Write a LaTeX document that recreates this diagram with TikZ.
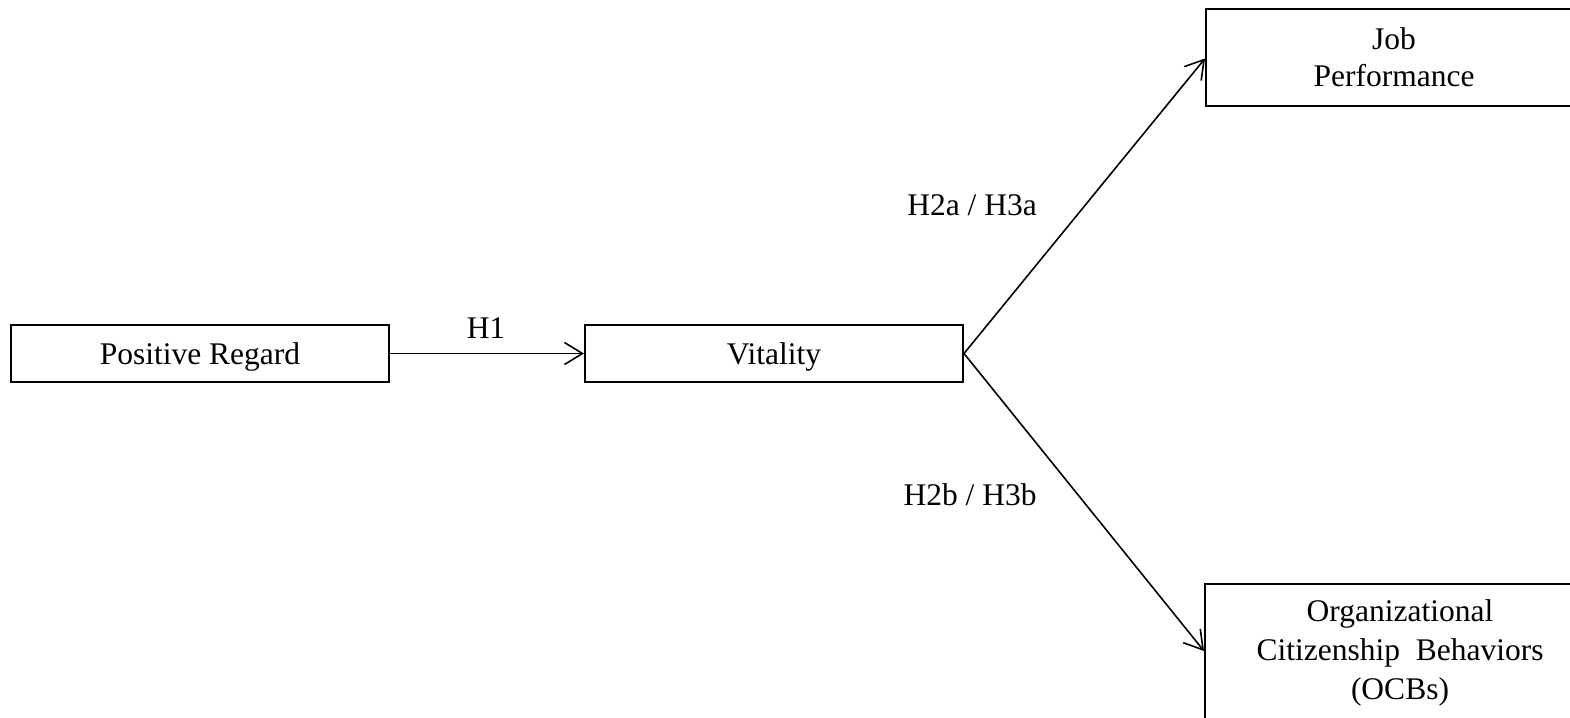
\documentclass[tikz,border=0pt]{standalone}
\usepackage{fontspec}
\setmainfont{Liberation Serif}
\usetikzlibrary{arrows.meta}
\begin{document}
\begin{tikzpicture}[x=0.5pt,y=-0.5pt,
  every node/.style={font=\fontsize{15.75pt}{18.5pt}\selectfont},
  box/.style={draw,line width=1pt,inner sep=0pt,align=center},
  lbl/.style={inner sep=0pt,anchor=base},
  conn/.style={line width=0.8pt,-{Straight Barb[length=9pt,width=11pt,line width=0.8pt]}}]
\useasboundingbox (0,0) rectangle (1570,718);
\clip (0,0) rectangle (1570,718);
\node[box,minimum width=189pt,minimum height=28.5pt,text height=11.5pt,text depth=1pt] (pr) at (200,353.5) {Positive Regard};
\node[box,minimum width=189pt,minimum height=28.5pt,text height=11.5pt,text depth=1pt] (vit) at (774,353.5) {Vitality};
\node[box,minimum width=188pt,minimum height=48.5pt] (jp) at (1394,57.5) {Job\\Performance};
\node[box,minimum width=195pt,minimum height=69pt,font=\fontsize{15.75pt}{19.5pt}\selectfont] (ocb) at (1400,653) {Organizational\\Citizenship\ \ Behaviors\\(OCBs)};
\draw[conn] (pr.east) -- (vit.west);
\draw[conn] (vit.east) -- ([yshift=-0.5pt]jp.west);
\draw[conn] (vit.east) -- ([yshift=1pt]ocb.west);
\node[lbl] (h1) at (486,338) {H1};
\node[lbl] (h2a) at (972,215) {H2a / H3a};
\node[lbl] (h2b) at (970,505) {H2b / H3b};
\end{tikzpicture}
\end{document}
